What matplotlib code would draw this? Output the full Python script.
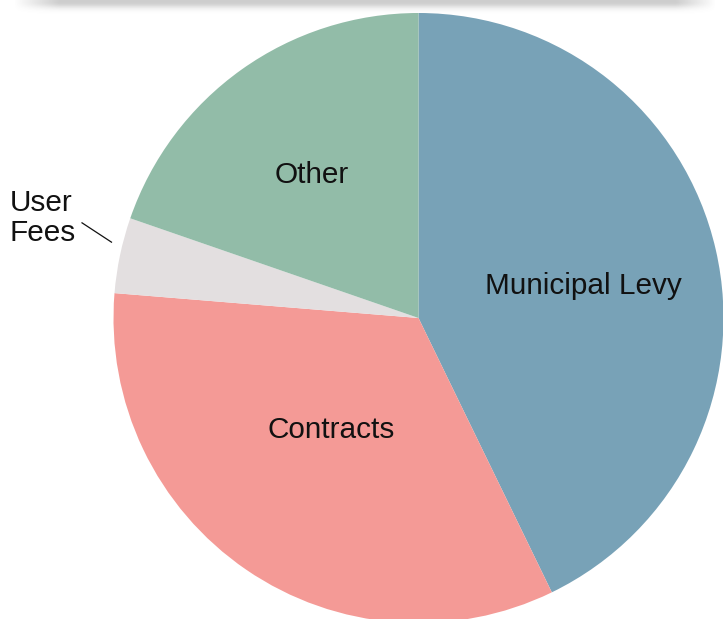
import numpy as np
import matplotlib
matplotlib.use("Agg")
import matplotlib.pyplot as plt

plt.rcParams['font.family'] = ['Liberation Sans', 'DejaVu Sans']

# Revenue shares (percent), clockwise from 12 o'clock
categories = ["Municipal Levy", "Contracts", "User Fees", "Other"]
shares = [42.8, 33.5, 4.0, 19.7]
colors = ["#78a2b7", "#f49a96", "#e3dfe0", "#92bca8"]

W, H = 723, 619
fig = plt.figure(figsize=(W / 100, H / 100), dpi=100)
ax = fig.add_axes([0, 0, 1, 1])

cx, cy, r = 418.5, H - 318, 305
wedges, _ = ax.pie(shares, colors=colors, startangle=90, counterclock=False,
                   center=(cx, cy), radius=r, frame=True,
                   wedgeprops=dict(linewidth=0))

fs = 21.4
tc = '#111111'
ax.text(583, H - 294.3, "Municipal Levy", fontsize=fs, ha='center', va='baseline', color=tc)
ax.text(331, H - 438.5, "Contracts", fontsize=fs, ha='center', va='baseline', color=tc)
ax.text(312, H - 183.3, "Other", fontsize=fs, ha='center', va='baseline', color=tc)
ax.text(10, H - 210.7, "User", fontsize=fs, ha='left', va='baseline', color=tc)
ax.text(10, H - 241, "Fees", fontsize=fs, ha='left', va='baseline', color=tc)
ax.plot([81.5, 112], [H - 222.5, H - 242.5], color=tc, linewidth=0.9,
        solid_capstyle='butt')

# Drop shadow of the header panel along the top edge
ys = np.arange(0, 18) + 0.5
xs = np.arange(0, W) + 0.5
va = 0.30 * np.exp(-(np.clip(ys - 2, 0, None) / 6.0) ** 2)
ha = np.clip((xs - 14) / 45.0, 0, 1) * np.clip((716 - xs) / 40.0, 0, 1)
alpha = va[:, None] * ha[None, :]
img = np.zeros((len(ys), W, 4))
img[..., :3] = 0.35
img[..., 3] = alpha
ax.imshow(img, extent=(0, W, H - 18, H), origin='upper', interpolation='bilinear',
          zorder=5, aspect='auto')

ax.set_xlim(0, W)
ax.set_ylim(0, H)
ax.set_aspect('equal')
ax.axis('off')

fig.savefig("out.png", dpi=100)
